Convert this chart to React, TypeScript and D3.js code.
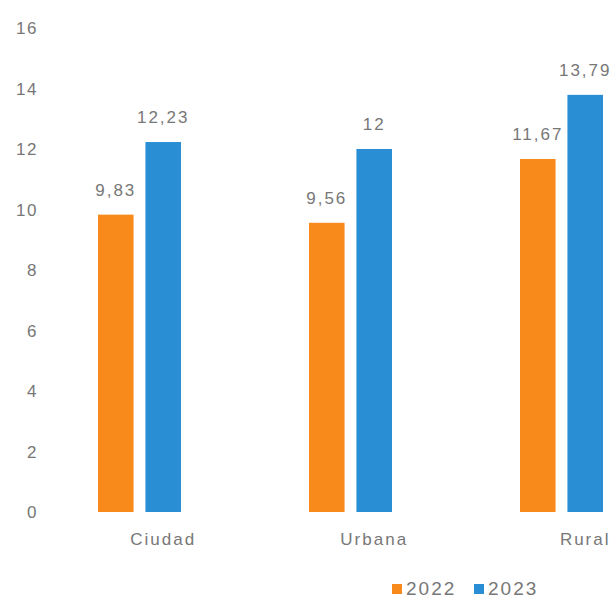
import * as d3 from "d3";
import { useEffect, useRef } from "react";

const categories = ["Ciudad", "Urbana", "Rural"];
const seriesNames = ["2022", "2023"];
const values2022 = [9.83, 9.56, 11.67];
const values2023 = [12.23, 12, 13.79];
const valueLabels2022 = ["9,83", "9,56", "11,67"];
const valueLabels2023 = ["12,23", "12", "13,79"];
const yTicks = [0, 2, 4, 6, 8, 10, 12, 14, 16];

const COLORS = ["#F88A1C", "#2A8ED5"];
const TEXT_COLOR = "#777";

const App = () => {
  const svgRef = useRef(null);

  useEffect(() => {
    const width = 614;
    const height = 599;

    const svg = d3
      .select(svgRef.current)
      .attr("width", width)
      .attr("height", height);
    svg.selectAll("*").remove();

    const y = d3.scaleLinear().domain([0, 16]).range([512, 28]);
    const x0 = d3.scaleBand().domain(categories).range([34, 667]);
    const x1 = d3
      .scaleBand()
      .domain(seriesNames)
      .range([-41.5, 41.5])
      .paddingInner(0.25);

    const font = "Liberation Sans, Arial, sans-serif";

    // y tick labels
    svg
      .append("g")
      .selectAll("text")
      .data(yTicks)
      .enter()
      .append("text")
      .attr("x", 38)
      .attr("y", (d) => y(d) + 6)
      .attr("text-anchor", "end")
      .attr("font-family", font)
      .attr("font-size", 17)
      .attr("letter-spacing", 1.5)
      .attr("fill", TEXT_COLOR)
      .text((d) => d);

    const allValues = [values2022, values2023];
    const allLabels = [valueLabels2022, valueLabels2023];

    seriesNames.forEach((s, si) => {
      const g = svg.append("g");
      categories.forEach((c, ci) => {
        const cx = x0(c)! + x0.bandwidth() / 2 + x1(s)!;
        const v = allValues[si][ci];
        g.append("rect")
          .attr("x", cx)
          .attr("y", y(v))
          .attr("width", x1.bandwidth())
          .attr("height", y(0) - y(v))
          .attr("fill", COLORS[si]);

        g.append("text")
          .attr("x", cx + x1.bandwidth() / 2)
          .attr("y", y(v) - 19)
          .attr("text-anchor", "middle")
          .attr("font-family", font)
          .attr("font-size", 17)
          .attr("letter-spacing", 2)
          .attr("fill", TEXT_COLOR)
          .text(allLabels[si][ci]);
      });
    });

    // category labels, centered under the second bar
    svg
      .append("g")
      .selectAll("text")
      .data(categories)
      .enter()
      .append("text")
      .attr(
        "x",
        (d) => x0(d)! + x0.bandwidth() / 2 + x1("2023")! + x1.bandwidth() / 2
      )
      .attr("y", 545)
      .attr("text-anchor", "middle")
      .attr("font-family", font)
      .attr("font-size", 17)
      .attr("letter-spacing", 2)
      .attr("fill", TEXT_COLOR)
      .text((d) => d);

    // legend
    const legendX = [392, 474];
    seriesNames.forEach((s, i) => {
      svg
        .append("rect")
        .attr("x", legendX[i])
        .attr("y", 584)
        .attr("width", 10)
        .attr("height", 10)
        .attr("fill", COLORS[i]);
      svg
        .append("text")
        .attr("x", legendX[i] + 14)
        .attr("y", 595)
        .attr("font-family", font)
        .attr("font-size", 19)
        .attr("letter-spacing", 2)
        .attr("fill", TEXT_COLOR)
        .text(s);
    });
  }, []);

  return (
    <svg
      ref={svgRef}
      style={{ position: "absolute", left: 0, top: 0, background: "white" }}
    ></svg>
  );
};

export default App;
